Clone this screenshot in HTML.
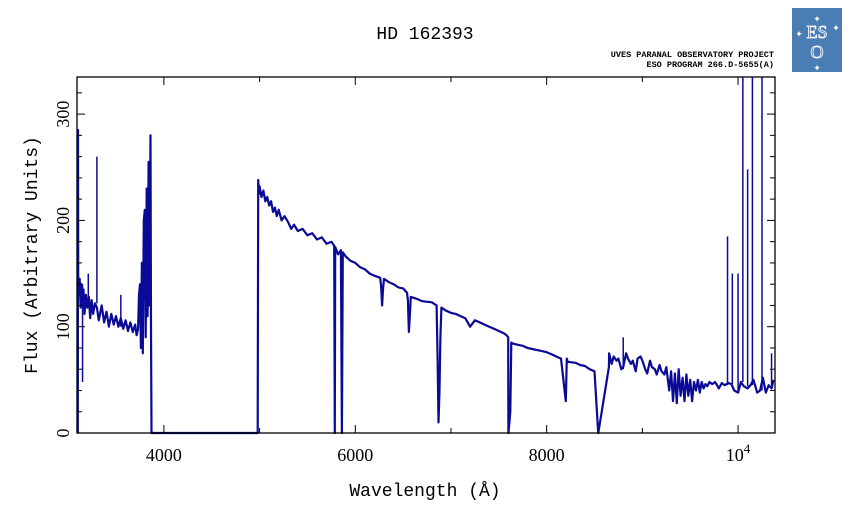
<!DOCTYPE html>
<html><head><meta charset="utf-8"><style>
body{margin:0;background:#fff;}
svg{display:block;}
</style></head><body>
<svg id="chart" width="851" height="511" viewBox="0 0 851 511" xmlns="http://www.w3.org/2000/svg">
<text x="425" y="39" text-anchor="middle" font-family="Liberation Mono, monospace" font-size="18">HD 162393</text>
<text x="774" y="57" text-anchor="end" font-family="Liberation Mono, monospace" font-size="8.5" font-weight="bold">UVES PARANAL OBSERVATORY PROJECT</text>
<text x="774" y="67" text-anchor="end" font-family="Liberation Mono, monospace" font-size="8.5" font-weight="bold">ESO PROGRAM 266.D-5655(A)</text>
<g>
<rect x="792" y="8" width="50" height="64" fill="#4a7db3"/>
<text x="817" y="38" text-anchor="middle" font-family="Liberation Serif, serif" font-size="18" fill="none" stroke="#fff" stroke-width="0.8">ES</text>
<text x="817" y="58" text-anchor="middle" font-family="Liberation Serif, serif" font-size="18" fill="none" stroke="#fff" stroke-width="0.8">O</text>
<text x="817" y="22" text-anchor="middle" font-size="9" fill="#fff">✦</text>
<text x="799" y="37" text-anchor="middle" font-size="9" fill="#fff">✦</text>
<text x="836" y="31" text-anchor="middle" font-size="9" fill="#fff">✦</text>
<text x="817" y="71" text-anchor="middle" font-size="9" fill="#fff">✦</text>
</g>
<g id="plot"></g>
<text x="425" y="496" text-anchor="middle" font-family="Liberation Mono, monospace" font-size="18">Wavelength (Å)</text>
<text transform="translate(37,255) rotate(-90)" text-anchor="middle" font-family="Liberation Mono, monospace" font-size="18">Flux (Arbitrary Units)</text>
</svg>
<script>
const wavelengths=[3100,3102,3105,3110,3120,3130,3140,3150,3160,3170,3185,3200,3215,3230,3245,3260,3280,3300,3320,3350,3375,3400,3425,3450,3475,3500,3525,3550,3575,3600,3625,3650,3675,3700,3715,3730,3740,3750,3760,3770,3780,3790,3800,3810,3820,3830,3840,3850,3860,3865,3870,
4980,4985,4995,5000,5020,5040,5060,5080,5100,5120,5140,5160,5180,5200,5230,5260,5300,5330,5360,5400,5450,5500,5550,5600,5650,5700,5750,5780,5786,5790,5820,5850,5860,5870,5900,5950,6000,6050,6100,6150,6200,6260,6270,6280,6290,6300,6350,6400,6450,6500,6540,6550,6560,6570,6580,6650,6700,6800,6850,6860,6870,6880,6890,6900,6950,7000,7050,7100,7150,7200,7250,7300,7350,7400,7450,7500,7550,7580,7598,7600,7610,7620,7630,7650,7700,7750,7800,7850,7900,7950,8000,8050,8100,8150,8200,8210,8220,8300,8350,8400,8450,8500,8538,8540,
8650,8652,8680,8700,8730,8750,8780,8800,8830,8850,8880,8900,8930,8950,8980,9000,9030,9050,9080,9100,9130,9150,9180,9200,9230,9250,9280,9300,9320,9340,9360,9380,9400,9420,9440,9460,9480,9500,9520,9540,9560,9580,9600,9620,9640,9660,9680,9700,9730,9760,9800,9830,9860,9900,9930,9960,10000,10030,10060,10100,10130,10160,10200,10230,10260,10290,10320,10350,10370,10386];
const fluxes=[0,285,150,130,145,118,140,120,135,112,130,118,128,108,125,112,122,118,106,120,104,114,100,112,102,110,100,108,98,106,96,104,95,102,92,98,130,140,80,160,75,200,210,90,230,110,255,120,280,100,0,
0,238,225,232,222,228,218,222,214,218,208,212,204,210,200,204,198,192,196,190,192,186,188,182,184,178,180,176,0,175,168,172,0,170,166,162,160,156,154,150,148,146,138,120,135,145,142,140,137,136,132,125,95,110,128,126,124,123,120,70,10,40,90,118,115,113,112,110,108,100,106,104,102,100,98,96,94,92,90,0,10,20,85,84,83,82,80,79,78,77,76,74,72,70,30,70,67,66,64,63,60,58,0,
0,62,75,65,72,68,70,60,62,75,70,65,68,58,70,72,68,60,56,68,62,60,55,64,58,55,62,40,58,30,56,28,60,35,52,30,55,35,50,30,48,40,50,38,48,42,46,44,48,46,48,42,47,45,47,46,40,38,48,44,42,45,50,38,40,52,38,45,42,50];
const spikeWl=[3150,3300,3210,3550,8800,9890,9940,10000,10050,10100,10150,10250,10350];
const spikeFlux=[48,260,150,130,90,185,150,150,335,248,335,335,75];
const xTicks=[4000,6000,8000,10000];
const xTickLabels=["4000","6000","8000","10"];
const yTicks=[0,100,200,300];
const yTickLabels=["0","100","200","300"];
const L=77,R=775,T=77,B=433,X0=3092,X1=10386,Y1=334.9;
const xs=w=>L+(w-X0)/(X1-X0)*(R-L);
const ys=f=>B-f/Y1*(B-T);
const NS='http://www.w3.org/2000/svg';
const g=document.getElementById('plot');
function mk(t,a){const e=document.createElementNS(NS,t);for(const k in a)e.setAttribute(k,a[k]);g.appendChild(e);return e;}
let d='';wavelengths.forEach((w,i)=>{d+=(i?'L':'M')+xs(w).toFixed(1)+' '+ys(Math.min(fluxes[i],Y1)).toFixed(1);});
const p=mk('path',{d:d,fill:'none',stroke:'#0a0a96','stroke-width':2.2,'stroke-linejoin':'round'});


spikeWl.forEach((w,i)=>{
 let j=0;while(j<wavelengths.length-1&&wavelengths[j+1]<w)j++;
 const base=fluxes[j];
 const s=mk('line',{x1:xs(w),x2:xs(w),y1:ys(base),y2:ys(Math.min(spikeFlux[i],Y1)),stroke:'#0a0a96','stroke-width':1.5});
 
 
});
const fr=mk('rect',{x:L,y:T,width:R-L,height:B-T,fill:'none',stroke:'#000','stroke-width':1.3});


for(let w=4000;w<=X1;w+=1000){
 const major=xTicks.includes(w);const len=major?8:5;
 mk('line',{x1:xs(w),x2:xs(w),y1:B,y2:B-len,stroke:'#000'});
 mk('line',{x1:xs(w),x2:xs(w),y1:T,y2:T+len,stroke:'#000'});
}
xTicks.forEach((w,i)=>{
 const t=mk('text',{x:xs(w),y:B+28,'text-anchor':'middle','font-family':'Liberation Serif, serif','font-size':18});
 t.textContent=xTickLabels[i];
 if(w===10000){const s=document.createElementNS(NS,'tspan');s.setAttribute('dy','-8');s.setAttribute('font-size','13');s.textContent='4';t.appendChild(s);}
 
 
});
for(let f=0;f<=Y1;f+=20){
 const major=yTicks.includes(f);const len=major?8:5;
 mk('line',{x1:L,x2:L+len,y1:ys(f),y2:ys(f),stroke:'#000'});
 mk('line',{x1:R,x2:R-len,y1:ys(f),y2:ys(f),stroke:'#000'});
}
yTicks.forEach((f,i)=>{
 const t=mk('text',{transform:`translate(69,${ys(f)}) rotate(-90)`,'text-anchor':'middle','font-family':'Liberation Serif, serif','font-size':18});
 t.textContent=yTickLabels[i];
 
 
});
</script>
</body></html>
